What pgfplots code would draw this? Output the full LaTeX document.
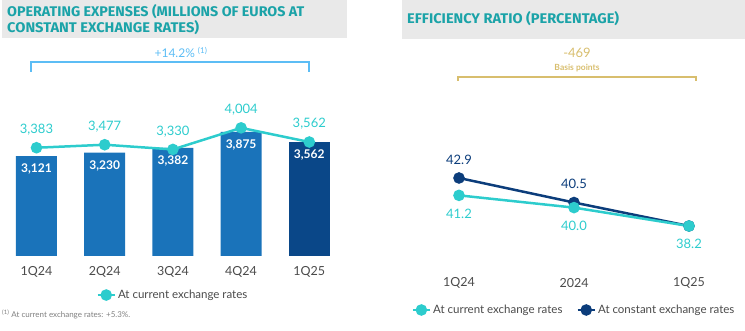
\documentclass[border=0pt]{standalone}
\usepackage{pgfplots}
\pgfplotsset{compat=1.18}
\usepackage{fontspec}
\setmainfont{Lato}
\newfontfamily\titlefont{Fira Sans}
\definecolor{barblue}{HTML}{1A73BA}
\definecolor{barnavy}{HTML}{0A4788}
\definecolor{aqua}{HTML}{2DCCCD}
\definecolor{navyl}{HTML}{0C3D7B}
\definecolor{titleteal}{HTML}{1BA3A8}
\definecolor{boxgray}{HTML}{E9E9E9}
\definecolor{lblue}{HTML}{5CBDF5}
\definecolor{gold}{HTML}{D8BE6E}
\definecolor{tickgray}{HTML}{4A4A4A}
\definecolor{footgray}{HTML}{808080}
\begin{document}
\begin{tikzpicture}
\useasboundingbox (0pt,0pt) rectangle (745pt,331pt);
% title boxes
\fill[boxgray] (2pt,331pt) rectangle (347pt,293pt);
\node[anchor=base west, inner sep=0pt, text=titleteal, font=\titlefont\bfseries\fontsize{14}{16}\selectfont] at (7pt,314pt) {\resizebox{297pt}{\height}{OPERATING EXPENSES (MILLIONS OF EUROS AT}};
\node[anchor=base west, inner sep=0pt, text=titleteal, font=\titlefont\bfseries\fontsize{14}{16}\selectfont] at (7pt,298.5pt) {\resizebox{192pt}{\height}{CONSTANT EXCHANGE RATES)}};
\fill[boxgray] (402pt,331pt) rectangle (745pt,292pt);
\node[anchor=base west, inner sep=0pt, text=titleteal, font=\titlefont\bfseries\fontsize{14}{16}\selectfont] at (407pt,307.5pt) {\resizebox{212pt}{\height}{EFFICIENCY RATIO (PERCENTAGE)}};
% left bracket
\draw[lblue, line width=2pt] (31pt,259pt) -- (31pt,268.5pt) -- (309pt,268.5pt) -- (309pt,259pt);
\node[anchor=base, text=lblue, font=\fontsize{12}{14}\selectfont] at (181pt,273pt) {+14.2\% \textsuperscript{(1)}};
% right bracket
\draw[gold, line width=2pt] (458pt,250pt) -- (458pt,253.7pt) -- (696pt,253.7pt) -- (696pt,250pt);
\node[anchor=base, text=gold, font=\fontsize{13}{15}\selectfont] at (577pt,273.3pt) {-469};
\node[anchor=base, text=gold, font=\bfseries\fontsize{8.5}{10}\selectfont] at (577pt,260pt) {Basis points};
% footnote
\node[anchor=west, inner sep=0pt, text=footgray, font=\fontsize{8}{9}\selectfont] at (2pt,17pt) {\textsuperscript{(1)} At current exchange rates: +5.3\%.};
% left axis
\begin{axis}[at={(2.4pt,75pt)}, anchor=south west, scale only axis,
  width=341pt, height=128pt, xmin=-0.5, xmax=4.5, ymin=0, ymax=4000,
  clip=false, axis line style={draw=none}, tick style={draw=none},
  ytick=\empty, xtick={0,1,2,3,4}, xticklabels={1Q24,2Q24,3Q24,4Q24,1Q25},
  xticklabel style={anchor=center, yshift=-16pt, text=tickgray, font=\fontsize{12.5}{14}\selectfont},
  legend style={at={(0.5,-0.305)}, anchor=center, draw=none, fill=none, text=tickgray, font=\fontsize{11.5}{13}\selectfont},
  ]
\addplot[ybar, bar width=41pt, bar shift=0pt, fill=barblue, draw=none, forget plot,
  point meta=explicit symbolic, nodes near coords, nodes near coords align=center,
  nodes near coords style={yshift=-13pt, text=white, font=\bfseries\fontsize{12}{14}\selectfont}]
  coordinates {(0,3121)[3,121] (1,3230)[3,230] (2,3382)[3,382] (3,3875)[3,875]};
\addplot[ybar, bar width=41pt, bar shift=0pt, fill=barnavy, draw=none, forget plot,
  point meta=explicit symbolic, nodes near coords, nodes near coords align=center,
  nodes near coords style={yshift=-13pt, text=white, font=\bfseries\fontsize{12}{14}\selectfont}]
  coordinates {(4,3562)[3,562]};
\addplot[aqua, line width=2.5pt, mark=*, mark size=4.5pt, mark options={solid},
  point meta=explicit symbolic, nodes near coords, nodes near coords align=center,
  nodes near coords style={yshift=18pt, text=aqua, font=\fontsize{13}{15}\selectfont}]
  coordinates {(0,3383)[3,383] (1,3477)[3,477] (2,3330)[3,330] (3,4004)[4,004] (4,3562)[3,562]};
\addlegendentry{At current exchange rates}
\end{axis}
% right axis
\begin{axis}[at={(459pt,105pt)}, anchor=south west, scale only axis,
  width=230pt, height=48pt, xmin=0, xmax=2, ymin=38.2, ymax=42.9,
  clip=false, axis line style={draw=none}, tick style={draw=none},
  ytick=\empty, xtick={0,1,2}, xticklabels={1Q24,2024,1Q25},
  xticklabel style={anchor=center, yshift=-57pt, text=tickgray, font=\fontsize{12.5}{14}\selectfont},
  legend columns=2, reverse legend,
  legend style={at={(0.5,-1.75)}, anchor=center, draw=none, fill=none, text=tickgray, font=\fontsize{11.5}{13}\selectfont, /tikz/every even column/.append style={column sep=12pt}},
  ]
\addplot[navyl, line width=2.5pt, mark=*, mark size=4.5pt,
  point meta=explicit symbolic, nodes near coords, nodes near coords align=center,
  nodes near coords style={yshift=18.5pt, text=navyl, font=\fontsize{13}{15}\selectfont}]
  coordinates {(0,42.9)[42.9] (1,40.5)[40.5] (2,38.2)[{}]};
\addlegendentry{At constant exchange rates}
\addplot[aqua, line width=2.5pt, mark=*, mark size=4.5pt,
  point meta=explicit symbolic, nodes near coords, nodes near coords align=center,
  nodes near coords style={yshift=-18pt, text=aqua, font=\fontsize{13}{15}\selectfont}]
  coordinates {(0,41.2)[41.2] (1,40.0)[40.0] (2,38.2)[38.2]};
\addlegendentry{At current exchange rates}
\end{axis}
\end{tikzpicture}
\end{document}
